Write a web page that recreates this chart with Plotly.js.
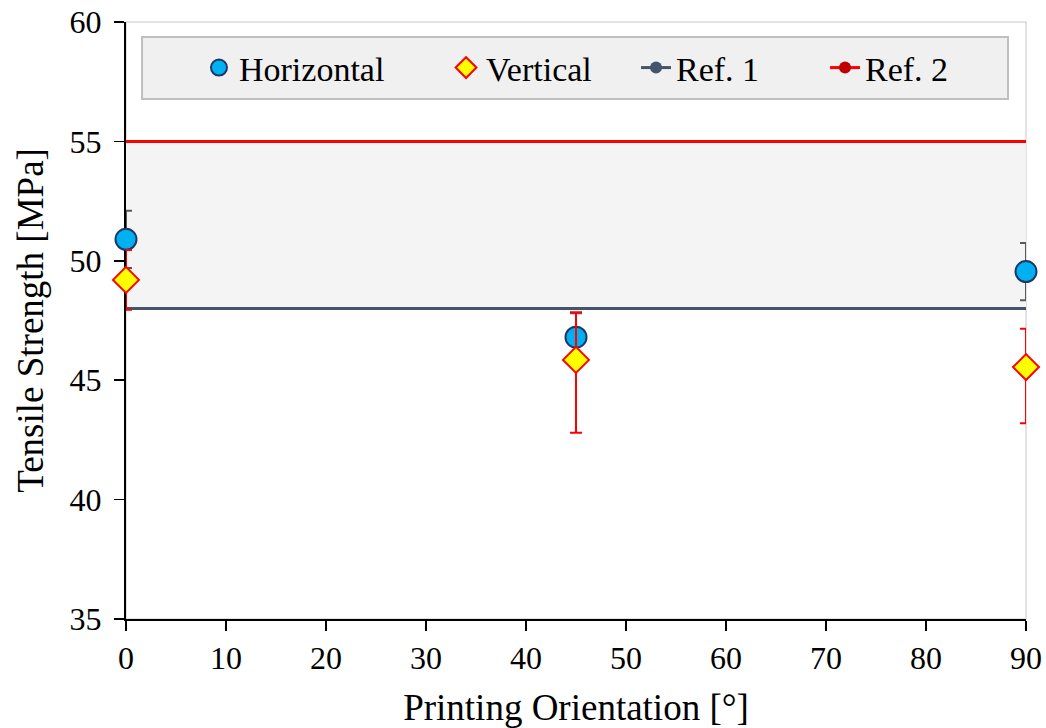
<!DOCTYPE html>
<html>
<head>
<meta charset="utf-8">
<script src="https://cdn.plot.ly/plotly-3.0.1.min.js"></script>
<style>html,body{margin:0;padding:0;background:#fff;}#chart{width:1046px;height:728px;}</style>
</head>
<body>
<div id="chart"></div>
<script>
// ---- data ----
const orientation = [0, 45, 90];
const horizontal = [50.9, 46.8, 49.55];
const horizontalErr = [1.2, 1.0, 1.2];
const vertical = [49.2, 45.85, 45.55];
const verticalErrPlus = [1.25, 2.0, 1.6];
const verticalErrMinus = [1.25, 3.05, 2.35];
const refRange = [0, 90];
const ref1 = [48, 48];
const ref2 = [55, 55];
const xTicks = [0, 10, 20, 30, 40, 50, 60, 70, 80, 90];
const yTicks = [35, 40, 45, 50, 55, 60];

const FONT = '"Liberation Serif", "Times New Roman", serif';

const traces = [
  {x: refRange, y: ref1, mode: 'lines', line: {color: '#44546a', width: 3}, showlegend: false, hoverinfo: 'skip'},
  {x: refRange, y: ref2, mode: 'lines', line: {color: '#ff0000', width: 3}, fill: 'tonexty', fillcolor: '#f4f4f4', showlegend: false, hoverinfo: 'skip'},
  {x: orientation, y: horizontal, name: 'Horizontal', mode: 'markers', legend: 'legend', cliponaxis: false,
   marker: {symbol: 'circle', size: 21, color: '#00b0f0', line: {color: '#1f3864', width: 2}},
   error_y: {type: 'data', array: horizontalErr, visible: true, color: '#595959', thickness: 2, width: 6}},
  {x: orientation, y: vertical, name: 'Vertical', mode: 'markers', legend: 'legend2', cliponaxis: false,
   marker: {symbol: 'diamond', size: 20, color: '#ffff00', line: {color: '#ff0000', width: 2}},
   error_y: {type: 'data', symmetric: false, array: verticalErrPlus, arrayminus: verticalErrMinus, visible: true, color: '#ff0000', thickness: 2, width: 6}},
  {x: [null], y: [null], name: 'Ref. 1', mode: 'lines+markers', legend: 'legend3',
   line: {color: '#44546a', width: 3}, marker: {color: '#44546a', size: 12}},
  {x: [null], y: [null], name: 'Ref. 2', mode: 'lines+markers', legend: 'legend4',
   line: {color: '#ff0000', width: 3}, marker: {color: '#c00000', size: 12}}
];

function leg(x) {
  return {x: x, xanchor: 'left', y: 0.923, yanchor: 'middle', orientation: 'h',
          bgcolor: 'rgba(0,0,0,0)', borderwidth: 0, font: {family: FONT, size: 34, color: '#000'}};
}

const layout = {
  width: 1046, height: 728,
  margin: {l: 126, r: 20, t: 22, b: 109},
  paper_bgcolor: '#ffffff', plot_bgcolor: '#ffffff',
  font: {family: FONT, color: '#000'},
  xaxis: {
    range: [0, 90], tickvals: xTicks, ticks: 'outside', ticklen: 10, tickwidth: 1.5, tickcolor: '#000',
    showline: true, linecolor: '#000', linewidth: 2, showgrid: false, zeroline: false,
    tickfont: {family: FONT, size: 32, color: '#000'}, layer: 'below traces',
    title: {text: 'Printing Orientation [°]', font: {family: FONT, size: 37, color: '#000'}, standoff: 20}
  },
  yaxis: {
    range: [35, 60], tickvals: yTicks, ticks: 'outside', ticklen: 10, tickwidth: 1.5, tickcolor: '#000',
    showline: true, linecolor: '#000', linewidth: 2, showgrid: false, zeroline: false,
    tickfont: {family: FONT, size: 32, color: '#000'}, layer: 'below traces', ticklabelstandoff: 6,
    title: {text: 'Tensile Strength [MPa]', font: {family: FONT, size: 37, color: '#000'}, standoff: 15}
  },
  showlegend: true,
  legend: leg(0.0811),
  legend2: leg(0.3556),
  legend3: leg(0.5667),
  legend4: leg(0.7767),
  shapes: [
    {type: 'rect', xref: 'paper', yref: 'paper', x0: 0, x1: 1, y0: 0, y1: 1, line: {color: '#d9d9d9', width: 1.5}, layer: 'below'},
    {type: 'rect', xref: 'paper', yref: 'paper', x0: 0.0178, x1: 0.98, y0: 0.871, y1: 0.975, fillcolor: '#f0f0f0', line: {color: '#bfbfbf', width: 2}, layer: 'above'}
  ]
};

Plotly.newPlot('chart', traces, layout, {displayModeBar: false, staticPlot: true});
</script>
</body>
</html>
